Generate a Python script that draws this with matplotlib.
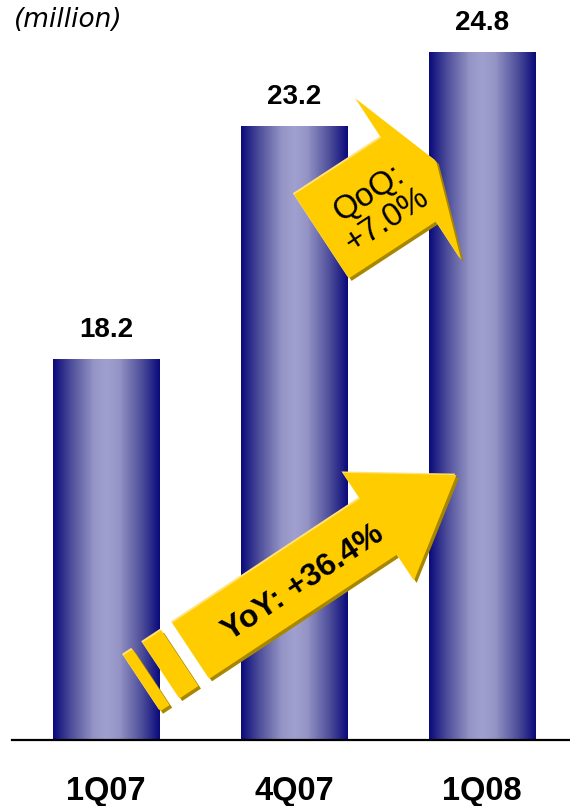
import numpy as np
import matplotlib
matplotlib.use('Agg')
import matplotlib.pyplot as plt
from matplotlib.colors import LinearSegmentedColormap
from matplotlib.patches import Polygon

quarters = ['1Q07', '4Q07', '1Q08']
subscribers = [18.2, 23.2, 24.8]
unit_label = '(million)'
qoq_label = 'QoQ:\n+7.0%'
yoy_label = 'YoY: +36.4%'

plt.rcParams['font.family'] = ['Liberation Sans', 'DejaVu Sans']

W, H, DPI = 570, 806, 100
fig = plt.figure(figsize=(W / DPI, H / DPI), dpi=DPI)
ax = fig.add_axes([12 / W, 66 / H, 1 - 12 / W, 1 - 66 / H])

x = np.arange(len(quarters))
bars = ax.bar(x, subscribers, width=0.565, color='none', edgecolor='none')

# navy -> lavender -> navy shading across each bar
bar_cmap = LinearSegmentedColormap.from_list('bar', [
    (0.0, '#0a0a7c'), (0.17, '#4e4e9a'), (0.38, '#9494c6'), (0.5, '#a0a0d0'),
    (0.62, '#9494c6'), (0.83, '#4e4e9a'), (1.0, '#0a0a7c')])
grad = np.linspace(0, 1, 256).reshape(1, -1)
for b in bars:
    ax.imshow(grad, cmap=bar_cmap, interpolation='bilinear', aspect='auto', zorder=2,
              extent=(b.get_x(), b.get_x() + b.get_width(), 0, b.get_height()))

ax.set_xlim(-0.5, 2.47)
ax.set_ylim(10, 25.93)

for xi, v in zip(x, subscribers):
    ax.annotate(f'{v:.1f}', xy=(xi, v), xytext=(0, 16.2), textcoords='offset points',
                ha='center', va='baseline', fontsize=20, fontweight='bold')

for side in ['top', 'left', 'right']:
    ax.spines[side].set_visible(False)
ax.spines['bottom'].set_linewidth(1.6)
ax.set_yticks([])
ax.set_xticks(x, quarters, fontsize=23.5, fontweight='bold', va='baseline')
ax.tick_params(axis='x', length=0, pad=43.5)

fig.text(14 / W, 1 - 20 / H, unit_label, family='DejaVu Sans', style='italic',
         fontsize=19, ha='left', va='center')


def arrow_shapes(body_len, body_w, head_len, head_w, stripes=()):
    """Outline of a block arrow in pixels, u along the shaft, v across it."""
    hb, hh = body_w / 2, head_w / 2
    shapes = [np.array([[0, -hb], [body_len, -hb], [body_len, -hh],
                        [body_len + head_len, 0], [body_len, hh], [body_len, hb], [0, hb]])]
    for u0, u1 in stripes:
        shapes.append(np.array([[u0, -hb], [u1, -hb], [u1, hb], [u0, hb]]))
    return shapes


def to_data(pts, anchor, angle, offset=(0, 0)):
    a = np.deg2rad(angle)
    rot = np.array([[np.cos(a), -np.sin(a)], [np.sin(a), np.cos(a)]])
    disp = pts @ rot.T + ax.transData.transform(anchor) + np.asarray(offset)
    return ax.transData.inverted().transform(disp)


def draw_arrow(shapes, anchor, angle):
    for off, col, z in [((2.6, -2.6), '#a88700', 5), ((-1.4, 1.4), '#ffe27a', 6), ((0, 0), '#ffcc00', 7)]:
        for s in shapes:
            ax.add_patch(Polygon(to_data(s, anchor, angle, off), closed=True,
                                 facecolor=col, edgecolor='none', zorder=z))


# quarter-on-quarter arrow between 4Q07 and 1Q08
qoq_anchor, qoq_angle = (1.148, 20.84), 33.2
draw_arrow(arrow_shapes(104, 100, 33, 192), qoq_anchor, qoq_angle)
tx, ty = to_data(np.array([[63, -6]]), qoq_anchor, qoq_angle)[0]
ax.text(tx, ty, qoq_label, rotation=qoq_angle, rotation_mode='anchor', ha='center',
        va='center', multialignment='center', fontsize=23.5, linespacing=1.05, zorder=8)

# year-on-year arrow from 1Q07 up to 1Q08
yoy_anchor, yoy_angle = (0.452, 11.92), 33.5
draw_arrow(arrow_shapes(225, 67, 93.5, 129, stripes=[(-35.7, -13.2), (-58.7, -47.7)]),
           yoy_anchor, yoy_angle)
tx, ty = to_data(np.array([[131, -5]]), yoy_anchor, yoy_angle)[0]
ax.text(tx, ty, yoy_label, rotation=yoy_angle, rotation_mode='anchor', ha='center',
        va='center', fontsize=23, fontweight='bold', zorder=8)

fig.savefig('out.png', dpi=DPI)
